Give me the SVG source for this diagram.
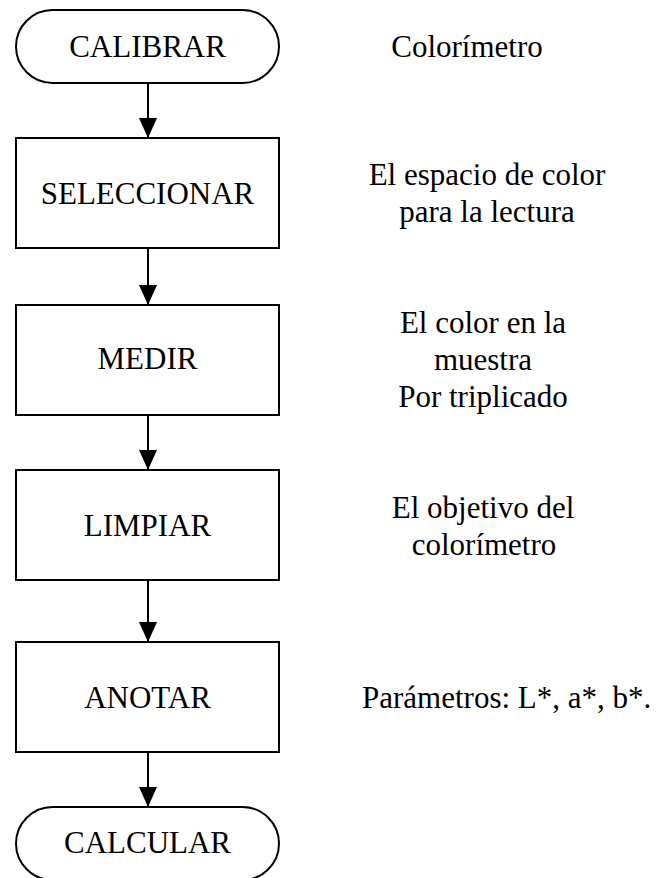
<svg xmlns="http://www.w3.org/2000/svg" width="664" height="878" viewBox="0 0 664 878">
<defs>
<style>
.s{fill:#fff;stroke:#000;stroke-width:2}
.t{font-family:"Liberation Serif","Times New Roman",serif;font-size:31px;fill:#000;text-anchor:middle}
.n{font-family:"Liberation Serif","Times New Roman",serif;font-size:31px;fill:#000;text-anchor:middle}
.c{stroke:#000;stroke-width:2;fill:none}
</style>
<marker id="ah" markerWidth="20" markerHeight="18" refX="20" refY="9" orient="auto" markerUnits="userSpaceOnUse" viewBox="0 0 20 18">
<path d="M0,0 L20,9 L0,18 Z" fill="#000"/>
</marker>
</defs>
<rect width="664" height="878" fill="#fff"/>
<g id="connectors">
<line class="c" x1="148" y1="83" x2="148" y2="138" marker-end="url(#ah)"/>
<line class="c" x1="148" y1="248" x2="148" y2="305" marker-end="url(#ah)"/>
<line class="c" x1="148" y1="415" x2="148" y2="470" marker-end="url(#ah)"/>
<line class="c" x1="148" y1="580" x2="148" y2="642" marker-end="url(#ah)"/>
<line class="c" x1="148" y1="752" x2="148" y2="807" marker-end="url(#ah)"/>
</g>
<g id="calibrar">
<rect class="s" x="16" y="10" width="263" height="73" rx="36.5" ry="36.5"/>
<text class="t" x="147.5" y="57">CALIBRAR</text>
</g>
<g id="seleccionar">
<rect class="s" x="16" y="138" width="263" height="110"/>
<text class="t" x="147.5" y="204">SELECCIONAR</text>
</g>
<g id="medir">
<rect class="s" x="16" y="305" width="263" height="110"/>
<text class="t" x="147.5" y="369">MEDIR</text>
</g>
<g id="limpiar">
<rect class="s" x="16" y="470" width="263" height="110"/>
<text class="t" x="147.5" y="536">LIMPIAR</text>
</g>
<g id="anotar">
<rect class="s" x="16" y="642" width="263" height="110"/>
<text class="t" x="147.5" y="708">ANOTAR</text>
</g>
<g id="calcular">
<rect class="s" x="16" y="807" width="263" height="73" rx="36.5" ry="36.5"/>
<text class="t" x="147.5" y="853">CALCULAR</text>
</g>
<g id="notes">
<text class="n" x="467" y="57">Colorímetro</text>
<text class="n" x="487" y="185">El espacio de color</text>
<text class="n" x="487" y="222">para la lectura</text>
<text class="n" x="483" y="333">El color en la</text>
<text class="n" x="483" y="370">muestra</text>
<text class="n" x="483" y="407">Por triplicado</text>
<text class="n" x="483" y="518">El objetivo del</text>
<text class="n" x="484" y="555">colorímetro</text>
<text class="n" x="362" y="708" style="text-anchor:start">Parámetros: L*, a*, b*.</text>
</g>
</svg>
